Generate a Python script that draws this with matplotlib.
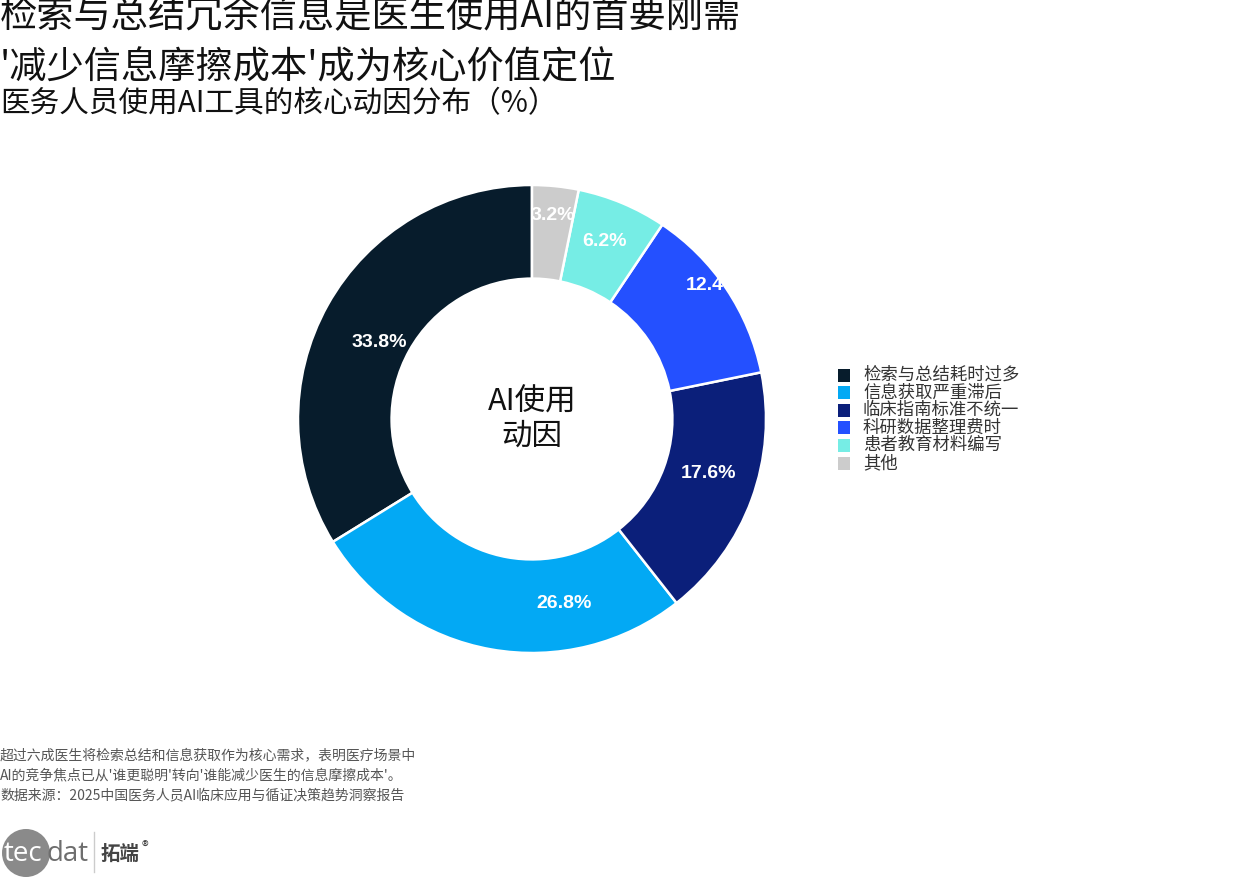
import numpy as np
import matplotlib
matplotlib.use("Agg")
import matplotlib.pyplot as plt
from matplotlib.patches import Circle, Rectangle

plt.rcParams['font.family'] = ['Noto Sans CJK SC', 'DejaVu Sans']

categories = ['检索与总结耗时过多', '信息获取严重滞后', '临床指南标准不统一',
              '科研数据整理费时', '患者教育材料编写', '其他']
values = [33.8, 26.8, 17.6, 12.4, 6.2, 3.2]
colors = ['#071C2C', '#03A9F4', '#0B1F7A', '#2450FF', '#76EDE5', '#CCCCCC']

# label placement (layout only): angular shift in degrees, radius in fraction of outer radius
label_shift_deg = [2.5, 20.0, 3.0, 2.5, 0.5, 0.0]
label_radius = [0.73, 0.80, 0.79, 0.965, 0.82, 0.875]

title1 = '检索与总结冗余信息是医生使用AI的首要刚需'
title2 = '\'减少信息摩擦成本\'成为核心价值定位'
subtitle = '医务人员使用AI工具的核心动因分布（%）'
center_text = 'AI使用\n动因'
notes = ['超过六成医生将检索总结和信息获取作为核心需求，表明医疗场景中',
         'AI的竞争焦点已从\'谁更聪明\'转向\'谁能减少医生的信息摩擦成本\'。',
         '数据来源：2025中国医务人员AI临床应用与循证决策趋势洞察报告']

W, H = 1260, 882
fig = plt.figure(figsize=(W / 100, H / 100), dpi=100)
fig.patch.set_facecolor('white')

cx, cy, R = 532, 419, 234
ax = fig.add_axes([(cx - R) / W, (H - cy - R) / H, 2 * R / W, 2 * R / H])
wedges, _ = ax.pie(values, colors=colors, startangle=90, counterclock=True,
                   radius=1.0, wedgeprops=dict(width=0.4, edgecolor='white', linewidth=1.8))
ax.set_xlim(-1, 1)
ax.set_ylim(-1, 1)
ax.set_aspect('auto')
ax.axis('off')

for w, v, sh, rr in zip(wedges, values, label_shift_deg, label_radius):
    mid = (w.theta1 + w.theta2) / 2 + sh
    x = rr * np.cos(np.deg2rad(mid))
    y = rr * np.sin(np.deg2rad(mid))
    t = ax.text(x, y, f'{v:.1f}%', ha='center', va='center', color='white',
                fontsize=14, fontweight='bold', family=['Liberation Sans', 'DejaVu Sans'])
    t.set_clip_path(w)

ax.text(0, 0, center_text, ha='center', va='center', fontsize=22, color='#111111',
        linespacing=1.15)

# titles
fig.text(0.0, 1 - 17 / H, title1, ha='left', va='center', fontsize=26.8, color='#111111')
fig.text(0.0, 1 - 68 / H, title2, ha='left', va='center', fontsize=26.8, color='#111111')
fig.text(0.0, 1 - 104 / H, subtitle, ha='left', va='center', fontsize=21.3, color='#111111')

# legend
lx, ly0, dy = 838, 375, 17.6
for i, (c, lab) in enumerate(zip(colors, categories)):
    y = ly0 + i * dy
    fig.patches.append(Rectangle((lx / W, 1 - (y + 6.5) / H), 12 / W, 13 / H,
                                 transform=fig.transFigure, facecolor=c, edgecolor='none'))
    fig.text(863 / W, 1 - y / H, lab, ha='left', va='center', fontsize=12.5, color='#333333')

# notes
for i, n in enumerate(notes):
    fig.text(0.0, 1 - (755 + 20 * i) / H, n, ha='left', va='center', fontsize=10, color='#555555')

# logo
lax = fig.add_axes([0, 0, 180 / W, 62 / H])
lax.set_xlim(0, 180)
lax.set_ylim(62, 0)
lax.set_aspect('auto')
lax.axis('off')
lax.add_patch(Circle((26, 33), 24, facecolor='#8a8a8a', edgecolor='none'))
lax.text(4, 34, 'tec', ha='left', va='center', fontsize=20, color='white',
         family=['Open Sans', 'DejaVu Sans'])
lax.text(46, 34, 'dat', ha='left', va='center', fontsize=20, color='#6e6e6e',
         family=['Open Sans', 'DejaVu Sans'])
lax.plot([94, 94], [12, 52], color='#cccccc', lw=1)
lax.text(101, 34, '拓端', ha='left', va='center', fontsize=14, color='#444444', fontweight='bold')
lax.text(142, 28, '®', ha='left', va='center', fontsize=10, color='#444444')

fig.savefig('out.png', dpi=100, facecolor='white')
